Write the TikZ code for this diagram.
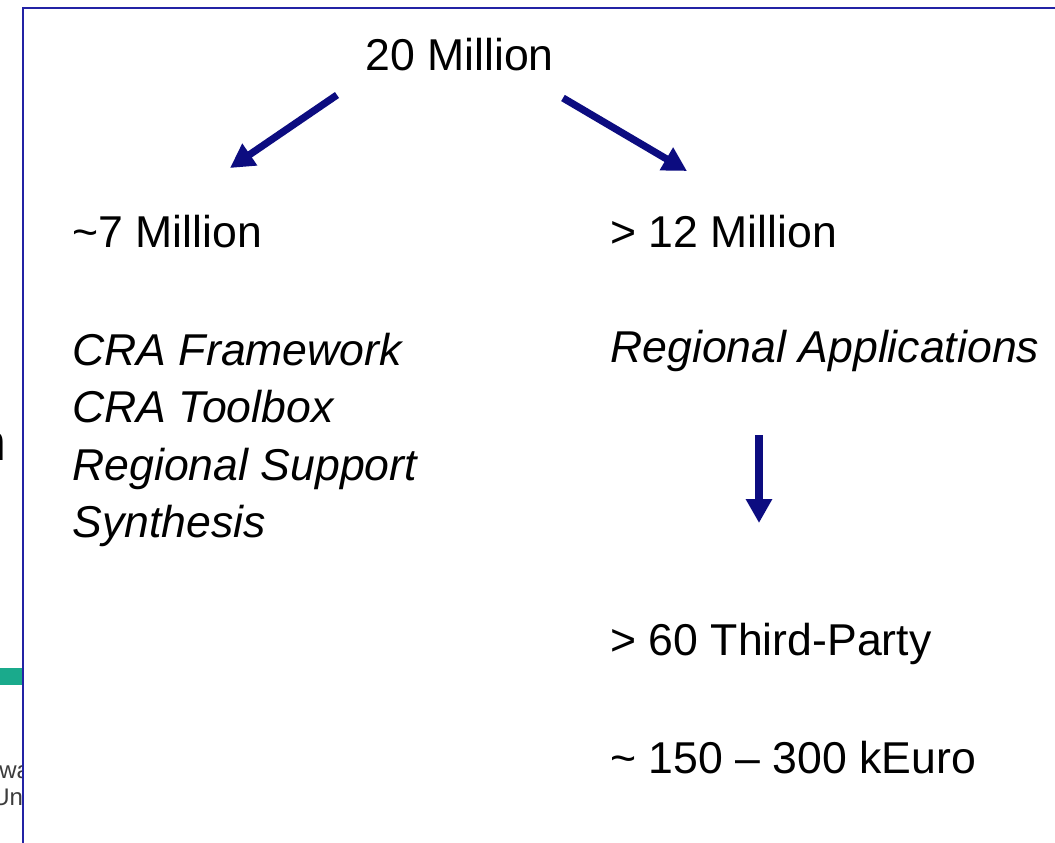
\documentclass[tikz,border=0pt]{standalone}
\usepackage{fontspec}
\setmainfont{Liberation Sans}
\usepackage{tikz}
\usetikzlibrary{arrows.meta}
\definecolor{arrowblue}{RGB}{12,12,128}
\definecolor{frameblue}{RGB}{35,35,165}
\definecolor{bandteal}{RGB}{26,170,140}
\definecolor{footgray}{RGB}{60,60,60}

\begin{document}
\begin{tikzpicture}[x=0.5pt, y=-0.5pt,
    every node/.style={inner sep=0pt, anchor=base west, font=\fontsize{22.3}{29}\selectfont},
    slanted/.style={font=\fontsize{22.3}{29}\selectfont\itshape},
    foot/.style={text=footgray, font=\fontsize{12}{14}\selectfont},
    flow/.style={draw=arrowblue, line width=3.6pt, -{Triangle[length=12pt,width=12.5pt]}}]
					\useasboundingbox (0,0) rectangle (1055,842);
					\clip (0,0) rectangle (1055,842);
					
					% what shows of the slide behind
					\node[anchor=base east, font=\fontsize{26}{30}\selectfont] (behindn) at (6.6,460) {n};
					\fill[bandteal] (0,668) rectangle (22,685);
					\node[foot] (behindwa) at (-1,778) {wa};
					\node[foot] (behindun) at (-8,805) {Un};
					
					% the box
					\fill[white] (22.5,7.5) rectangle (1060,850);
					\draw[frameblue, line width=1pt] (22.5,850) -- (22.5,7.5) -- (1060,7.5);
					
					\node (total) at (365,70) {20 Million};
					
					\node (left) at (72,247) {\textasciitilde 7 Million};
					\node[slanted] (framework) at (72,365) {CRA Framework};
					\node[slanted] (toolbox) at (72,422) {CRA Toolbox};
					\node[slanted] (support) at (72,480) {Regional Support};
					\node[slanted] (synthesis) at (72,537) {Synthesis};
					
					\node (right) at (610,247) {> 12 Million};
					\node[slanted] (apps) at (610,362) {Regional Applications};
					\node (parties) at (610,655) {> 60 Third-Party};
					\node (budget) at (610,773) {\textasciitilde{} 150 – 300 kEuro};
					
					\coordinate (leftfrom) at (337,95);
					\coordinate (leftto) at (230,168);
					\coordinate (rightfrom) at (563,98);
					\coordinate (rightto) at (687,171);
					\coordinate (downfrom) at (759,435);
					\coordinate (downto) at (759,523);
					\draw[flow] (leftfrom) -- (leftto);
					\draw[flow] (rightfrom) -- (rightto);
					\draw[flow] (downfrom) -- (downto);
				\end{tikzpicture}
\end{document}
